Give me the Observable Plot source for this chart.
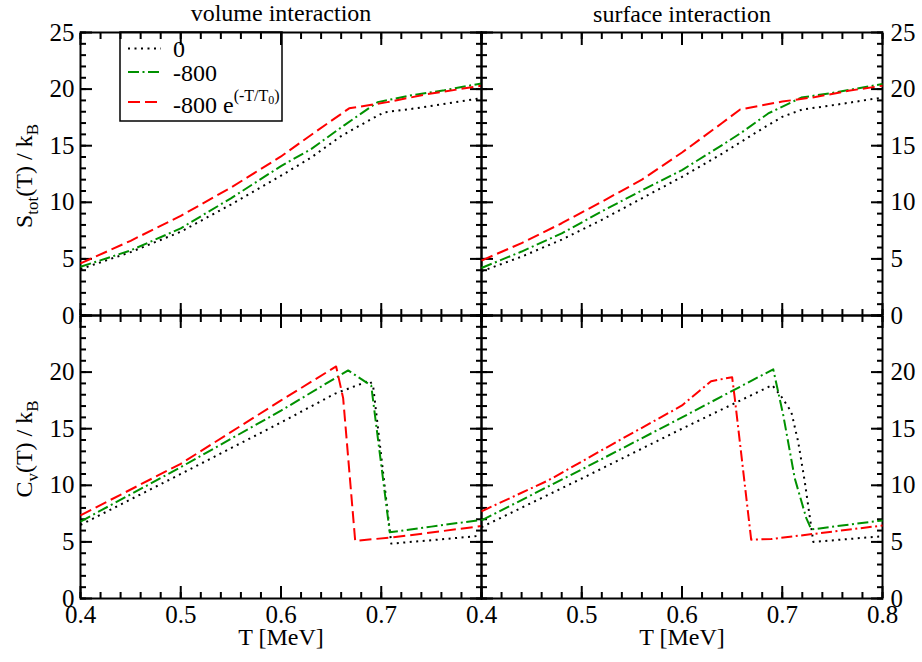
<!DOCTYPE html>
<html>
<head>
<meta charset="utf-8">
<script src="https://cdn.jsdelivr.net/npm/d3@7"></script>
<script src="https://cdn.jsdelivr.net/npm/@observablehq/plot@0.6"></script>
<style>
  body { margin: 0; background: #fff; }
  #chart { position: relative; width: 922px; height: 662px; font-family: "Liberation Serif", serif; }
  #chart svg { position: absolute; left: 0; top: 0; }
  #chart text { font-family: "Liberation Serif", serif; }
</style>
</head>
<body>
<div id="chart"></div>
<script>
// ---------------- data ----------------
const seriesNames = ["0", "-800", "-800 e^(-T/T0)"];
const panelTitles = ["volume interaction", "surface interaction"];
const xLabel = "T [MeV]";

// S_tot(T)/k_B, volume interaction
const tSvol0   = [0.40, 0.45, 0.50, 0.55, 0.60, 0.63, 0.66, 0.69, 0.703, 0.73, 0.76, 0.80];
const Svol0    = [4.1, 5.6, 7.4, 9.8, 12.35, 13.95, 15.85, 17.35, 17.95, 18.25, 18.65, 19.2];
const tSvol800 = [0.40, 0.45, 0.50, 0.55, 0.60, 0.63, 0.663, 0.6965, 0.73, 0.763, 0.80];
const Svol800  = [4.3, 5.75, 7.7, 10.35, 13.2, 14.7, 16.8, 18.85, 19.45, 19.9, 20.5];
const tSvolExp = [0.40, 0.45, 0.50, 0.55, 0.60, 0.63, 0.668, 0.706, 0.746, 0.80];
const SvolExp  = [4.6, 6.6, 8.8, 11.3, 14.05, 15.95, 18.3, 18.85, 19.55, 20.3];

// S_tot(T)/k_B, surface interaction
const tSsur0   = [0.40, 0.44, 0.48, 0.52, 0.56, 0.60, 0.64, 0.68, 0.70, 0.72, 0.7525, 0.792, 0.80];
const Ssur0    = [3.9, 5.2, 6.7, 8.45, 10.35, 12.25, 14.3, 16.5, 17.55, 18.2, 18.6, 19.15, 19.25];
const tSsur800 = [0.40, 0.44, 0.48, 0.52, 0.56, 0.60, 0.64, 0.66, 0.686, 0.719, 0.7525, 0.80];
const Ssur800  = [4.2, 5.65, 7.25, 9.2, 11.05, 12.85, 15.05, 16.2, 17.85, 19.25, 19.7, 20.45];
const tSsurExp = [0.40, 0.44, 0.48, 0.52, 0.56, 0.60, 0.64, 0.658, 0.70, 0.733, 0.766, 0.80];
const SsurExp  = [4.85, 6.4, 8.15, 10.05, 12.0, 14.4, 17.0, 18.2, 18.9, 19.3, 19.85, 20.3];

// C_v(T)/k_B, volume interaction
const tCvol0   = [0.40, 0.50, 0.60, 0.654, 0.6886, 0.692, 0.710, 0.75, 0.80];
const Cvol0    = [6.5, 11.0, 15.55, 18.1, 19.25, 18.7, 4.85, 5.15, 5.55];
const tCvol800 = [0.40, 0.50, 0.60, 0.667, 0.690, 0.7085, 0.75, 0.80];
const Cvol800  = [6.8, 11.6, 16.6, 20.15, 18.8, 5.85, 6.35, 6.95];
const tCvolExp = [0.40, 0.50, 0.60, 0.655, 0.662, 0.674, 0.712, 0.80];
const CvolExp  = [7.35, 11.9, 17.5, 20.5, 17.7, 5.1, 5.4, 6.4];

// C_v(T)/k_B, surface interaction
const tCsur0   = [0.40, 0.50, 0.60, 0.69, 0.699, 0.709, 0.716, 0.7225, 0.731, 0.80];
const Csur0    = [6.3, 10.6, 15.0, 18.85, 17.85, 16.5, 13.8, 10.3, 5.0, 5.5];
const tCsur800 = [0.40, 0.50, 0.60, 0.691, 0.701, 0.7125, 0.724, 0.729, 0.80];
const Csur800  = [6.9, 11.4, 16.0, 20.25, 16.2, 10.6, 7.1, 6.1, 6.9];
const tCsurExp = [0.40, 0.467, 0.533, 0.60, 0.629, 0.65, 0.6527, 0.669, 0.689, 0.80];
const CsurExp  = [7.7, 10.45, 13.75, 17.05, 19.2, 19.55, 17.65, 5.2, 5.25, 6.45];

// tick labels
const yTickLabelsTop    = [0, 5, 10, 15, 20, 25];
const yTickLabelsBottom = [0, 5, 10, 15, 20];
const xTickLabelsLeft   = [0.4, 0.5, 0.6, 0.7];
const xTickLabelsRight  = [0.4, 0.5, 0.6, 0.7, 0.8];

// ---------------- helpers ----------------
const W = 922, H = 662;
const rows = (t, v) => t.map((T, i) => ({T, v: v[i]}));
const xMajor = d3.range(4, 9).map(d => d / 10);
const xMinor = d3.range(40, 81, 2).map(d => d / 100);
const yMajor = d3.range(0, 26, 5);
const yMinor = d3.range(0, 26, 1);

const GREEN = "rgb(0,145,0)";
const styleZero = {stroke: "black", strokeDasharray: "2,4.5"};
const styleV800 = {stroke: GREEN, strokeDasharray: "11,3.5,2,3.5"};
const styleExp = {stroke: "red", strokeDasharray: "12,5"};
const styleExpDD = {stroke: "red", strokeDasharray: "11,3.5,2,3.5"};
const FONT = "'Liberation Serif', serif";

function makePanel(cfg) {
  const marks = [
    Plot.axisX(xMinor, {anchor: "bottom", tickSize: -6, fill: "none", label: null, strokeWidth: 2}),
    Plot.axisX(xMinor, {anchor: "top", tickSize: -6, fill: "none", label: null, strokeWidth: 2}),
    Plot.axisX(xMajor, {anchor: "bottom", tickSize: -12, fill: "none", label: null, strokeWidth: 2}),
    Plot.axisX(xMajor, {anchor: "top", tickSize: -12, fill: "none", label: null, strokeWidth: 2}),
    Plot.axisY(yMinor, {anchor: "left", tickSize: -6, fill: "none", label: null, strokeWidth: 2}),
    Plot.axisY(yMinor, {anchor: "right", tickSize: -6, fill: "none", label: null, strokeWidth: 2}),
    Plot.axisY(yMajor, {anchor: "left", tickSize: -12, fill: "none", label: null, strokeWidth: 2}),
    Plot.axisY(yMajor, {anchor: "right", tickSize: -12, fill: "none", label: null, strokeWidth: 2}),
    Plot.axisY(cfg.yLabels, {anchor: cfg.ySide, tickSize: 0, tickPadding: cfg.ySide === "left" ? 6 : 8,
      label: null, tickFormat: d => String(d), fill: "black", fontSize: 25}),
    Plot.frame({stroke: "black", strokeWidth: 2})
  ];
  if (cfg.xLabels) {
    marks.push(Plot.axisX(cfg.xLabels, {anchor: "bottom", tickSize: 0, tickPadding: 7, label: null,
      tickFormat: d => d.toFixed(1), fill: "black", fontSize: 25}));
    marks.push(Plot.text([xLabel], {text: d => d, frameAnchor: "bottom", dy: 39, lineAnchor: "middle",
      textAnchor: "middle", fill: "black"}));
  }
  if (cfg.title) {
    marks.push(Plot.text([cfg.title], {text: d => d, frameAnchor: "top", dy: cfg.titleDy, lineAnchor: "middle",
      textAnchor: "middle", fill: "black"}));
  }
  if (cfg.yTitle) {
    marks.push(Plot.text([cfg.yTitle], {text: d => d, frameAnchor: "left", rotate: -90, dx: -56, dy: cfg.yTitleDy,
      lineAnchor: "middle", textAnchor: "middle", fill: "black"}));
  }
  for (const s of cfg.series) {
    marks.push(Plot.line(s.data, {x: "T", y: "v", ...s.style, strokeWidth: 2, strokeLinecap: "butt", strokeLinejoin: "round"}));
  }
  return Plot.plot({
    width: W, height: H,
    marginLeft: cfg.x0, marginRight: W - cfg.x1, marginTop: cfg.y0, marginBottom: H - cfg.y1,
    x: {domain: [0.4, 0.8]},
    y: {domain: [0, 25]},
    style: {background: "transparent", fontFamily: FONT, fontSize: "24px", color: "black", overflow: "visible"},
    marks
  });
}

const labelS = "S_tot(T) / k_B";
const labelC = "C_v(T) / k_B";

const panels = [
  {x0: 80, x1: 481, y0: 32, y1: 315, ySide: "left", yLabels: yTickLabelsTop, title: panelTitles[0], titleDy: -19,
   yTitle: labelS, yTitleDy: 2,
   series: [{data: rows(tSvol0, Svol0), style: styleZero}, {data: rows(tSvol800, Svol800), style: styleV800}, {data: rows(tSvolExp, SvolExp), style: styleExp}]},
  {x0: 481, x1: 882, y0: 32, y1: 315, ySide: "right", yLabels: yTickLabelsTop, title: panelTitles[1], titleDy: -18,
   series: [{data: rows(tSsur0, Ssur0), style: styleZero}, {data: rows(tSsur800, Ssur800), style: styleV800}, {data: rows(tSsurExp, SsurExp), style: styleExp}]},
  {x0: 80, x1: 481, y0: 315, y1: 598, ySide: "left", yLabels: yTickLabelsBottom, xLabels: xTickLabelsLeft,
   yTitle: labelC, yTitleDy: -8,
   series: [{data: rows(tCvol0, Cvol0), style: styleZero}, {data: rows(tCvol800, Cvol800), style: styleV800}, {data: rows(tCvolExp, CvolExp), style: styleExp}]},
  {x0: 481, x1: 882, y0: 315, y1: 598, ySide: "right", yLabels: yTickLabelsBottom, xLabels: xTickLabelsRight,
   series: [{data: rows(tCsur0, Csur0), style: styleZero}, {data: rows(tCsur800, Csur800), style: styleV800}, {data: rows(tCsurExp, CsurExp), style: styleExpDD}]}
];

const chart = document.getElementById("chart");
for (const p of panels) chart.appendChild(makePanel(p));

// rich text (subscripts / superscripts) for labels
function richText(sel, parts) {
  sel.text(null);
  let shift = 0;
  for (const [s, kind] of parts) {
    const target = kind === "sub" ? 6 : kind === "sup" ? -12 : kind === "supsub" ? -9 : 0;
    const ts = sel.append("tspan").text(s).attr("dy", target - shift);
    if (kind === "sub") ts.attr("font-size", 17);
    if (kind === "sup") ts.attr("font-size", 16);
    if (kind === "supsub") ts.attr("font-size", 12);
    shift = target;
  }
}
d3.select(chart).selectAll("text").each(function () {
  const t = this.textContent;
  let parts = null;
  if (t === labelS) parts = [["S", ""], ["tot", "sub"], ["(T) / k", ""], ["B", "sub"]];
  if (t === labelC) parts = [["C", ""], ["v", "sub"], ["(T) / k", ""], ["B", "sub"]];
  if (parts) {
    const sel = d3.select(this);
    richText(sel, parts);
    // centre the rotated label on its panel
    sel.attr("text-anchor", "start");
    const len = this.getComputedTextLength();
    sel.attr("x", -len / 2);
  }
});

// legend
const leg = d3.select(chart).append("svg").attr("width", W).attr("height", H)
  .style("font-family", FONT).style("font-size", "24px");
leg.append("rect").attr("x", 120).attr("y", 32).attr("width", 162).attr("height", 89)
  .attr("fill", "none").attr("stroke", "black").attr("stroke-width", 1.5);
const legendStyles = [styleZero, styleV800, styleExp];
const legendLineY = [48.5, 72, 102];
const legendTextY = [57, 81, 113];
seriesNames.forEach((name, i) => {
  leg.append("line").attr("x1", 128).attr("x2", 161).attr("y1", legendLineY[i]).attr("y2", legendLineY[i])
    .attr("stroke", legendStyles[i].stroke).attr("stroke-width", 2).attr("stroke-dasharray", legendStyles[i].strokeDasharray);
  const tx = leg.append("text").attr("x", 173).attr("y", legendTextY[i]).attr("fill", "black");
  if (i < 2) tx.text(name);
  else richText(tx, [["-800 e", ""], ["(-T/T", "sup"], ["0", "supsub"], [")", "sup"]]);
});
</script>
</body>
</html>
